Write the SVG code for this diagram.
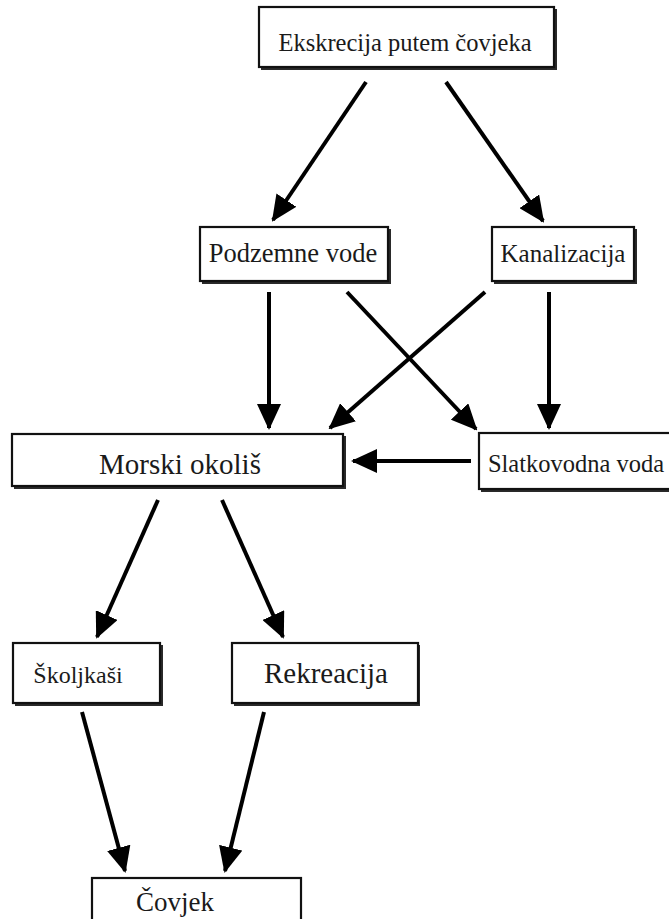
<svg xmlns="http://www.w3.org/2000/svg" width="669" height="919" viewBox="0 0 669 919">
<defs>
<style>
.box{fill:#fff;stroke:#111;stroke-width:2.2}
.sh{fill:#2a2a2a}
.t{font-family:'Liberation Serif','Times New Roman','DejaVu Serif',serif;fill:#1a1a1a;text-anchor:middle}
.c{stroke:#000;stroke-width:4;fill:none;marker-end:url(#ah)}
</style>
<marker id="ah" markerUnits="userSpaceOnUse" markerWidth="26" markerHeight="24" refX="24" refY="12" orient="auto" viewBox="0 0 26 24">
<path d="M0,0 L26,12 L0,24 Z" fill="#000"/>
</marker>
</defs>
<rect width="669" height="919" fill="#fff"/>
<g id="connectors">
<line class="c" x1="366" y1="82" x2="273" y2="220"/>
<line class="c" x1="446" y1="82" x2="543" y2="221"/>
<line class="c" x1="269" y1="292" x2="269" y2="428"/>
<line class="c" x1="347" y1="292" x2="476" y2="429"/>
<line class="c" x1="485" y1="292" x2="330" y2="428"/>
<line class="c" x1="549" y1="292" x2="549" y2="428"/>
<line class="c" x1="471" y1="461" x2="353" y2="461"/>
<line class="c" x1="158" y1="500" x2="97" y2="637"/>
<line class="c" x1="222" y1="500" x2="283" y2="637"/>
<line class="c" x1="82" y1="712" x2="125" y2="871"/>
<line class="c" x1="264" y1="712" x2="225" y2="871"/>
</g>
<g id="n-ekskrecija">
<rect class="sh" x="261" y="9" width="296" height="61"/>
<rect class="box" x="259" y="7" width="295" height="60"/>
<text class="t" x="405" y="51" font-size="24.5">Ekskrecija putem čovjeka</text>
</g>
<g id="n-podzemne">
<rect class="sh" x="202" y="229" width="189" height="55"/>
<rect class="box" x="200" y="227" width="188" height="54"/>
<text class="t" x="293" y="262" font-size="26.5">Podzemne vode</text>
</g>
<g id="n-kanalizacija">
<rect class="sh" x="494" y="229" width="143" height="55"/>
<rect class="box" x="492" y="227" width="142" height="54"/>
<text class="t" x="563" y="262" font-size="25">Kanalizacija</text>
</g>
<g id="n-morski">
<rect class="sh" x="14" y="436" width="332" height="53"/>
<rect class="box" x="12" y="434" width="331" height="52"/>
<text class="t" x="180" y="474" font-size="29">Morski okoliš</text>
</g>
<g id="n-slatkovodna">
<rect class="sh" x="481" y="435" width="200" height="57"/>
<rect class="box" x="479" y="433" width="200" height="56"/>
<text class="t" x="576" y="472" font-size="24.5">Slatkovodna voda</text>
</g>
<g id="n-skoljkasi">
<rect class="sh" x="15" y="645" width="148" height="61"/>
<rect class="box" x="13" y="643" width="147" height="60"/>
<text class="t" x="78" y="683" font-size="24">Školjkaši</text>
</g>
<g id="n-rekreacija">
<rect class="sh" x="234" y="645" width="186" height="61"/>
<rect class="box" x="232" y="643" width="186" height="60"/>
<text class="t" x="326" y="683" font-size="29">Rekreacija</text>
</g>
<g id="n-covjek">
<rect class="box" x="92" y="878" width="209" height="60"/>
<text class="t" x="175" y="911" font-size="27">Čovjek</text>
</g>
</svg>
